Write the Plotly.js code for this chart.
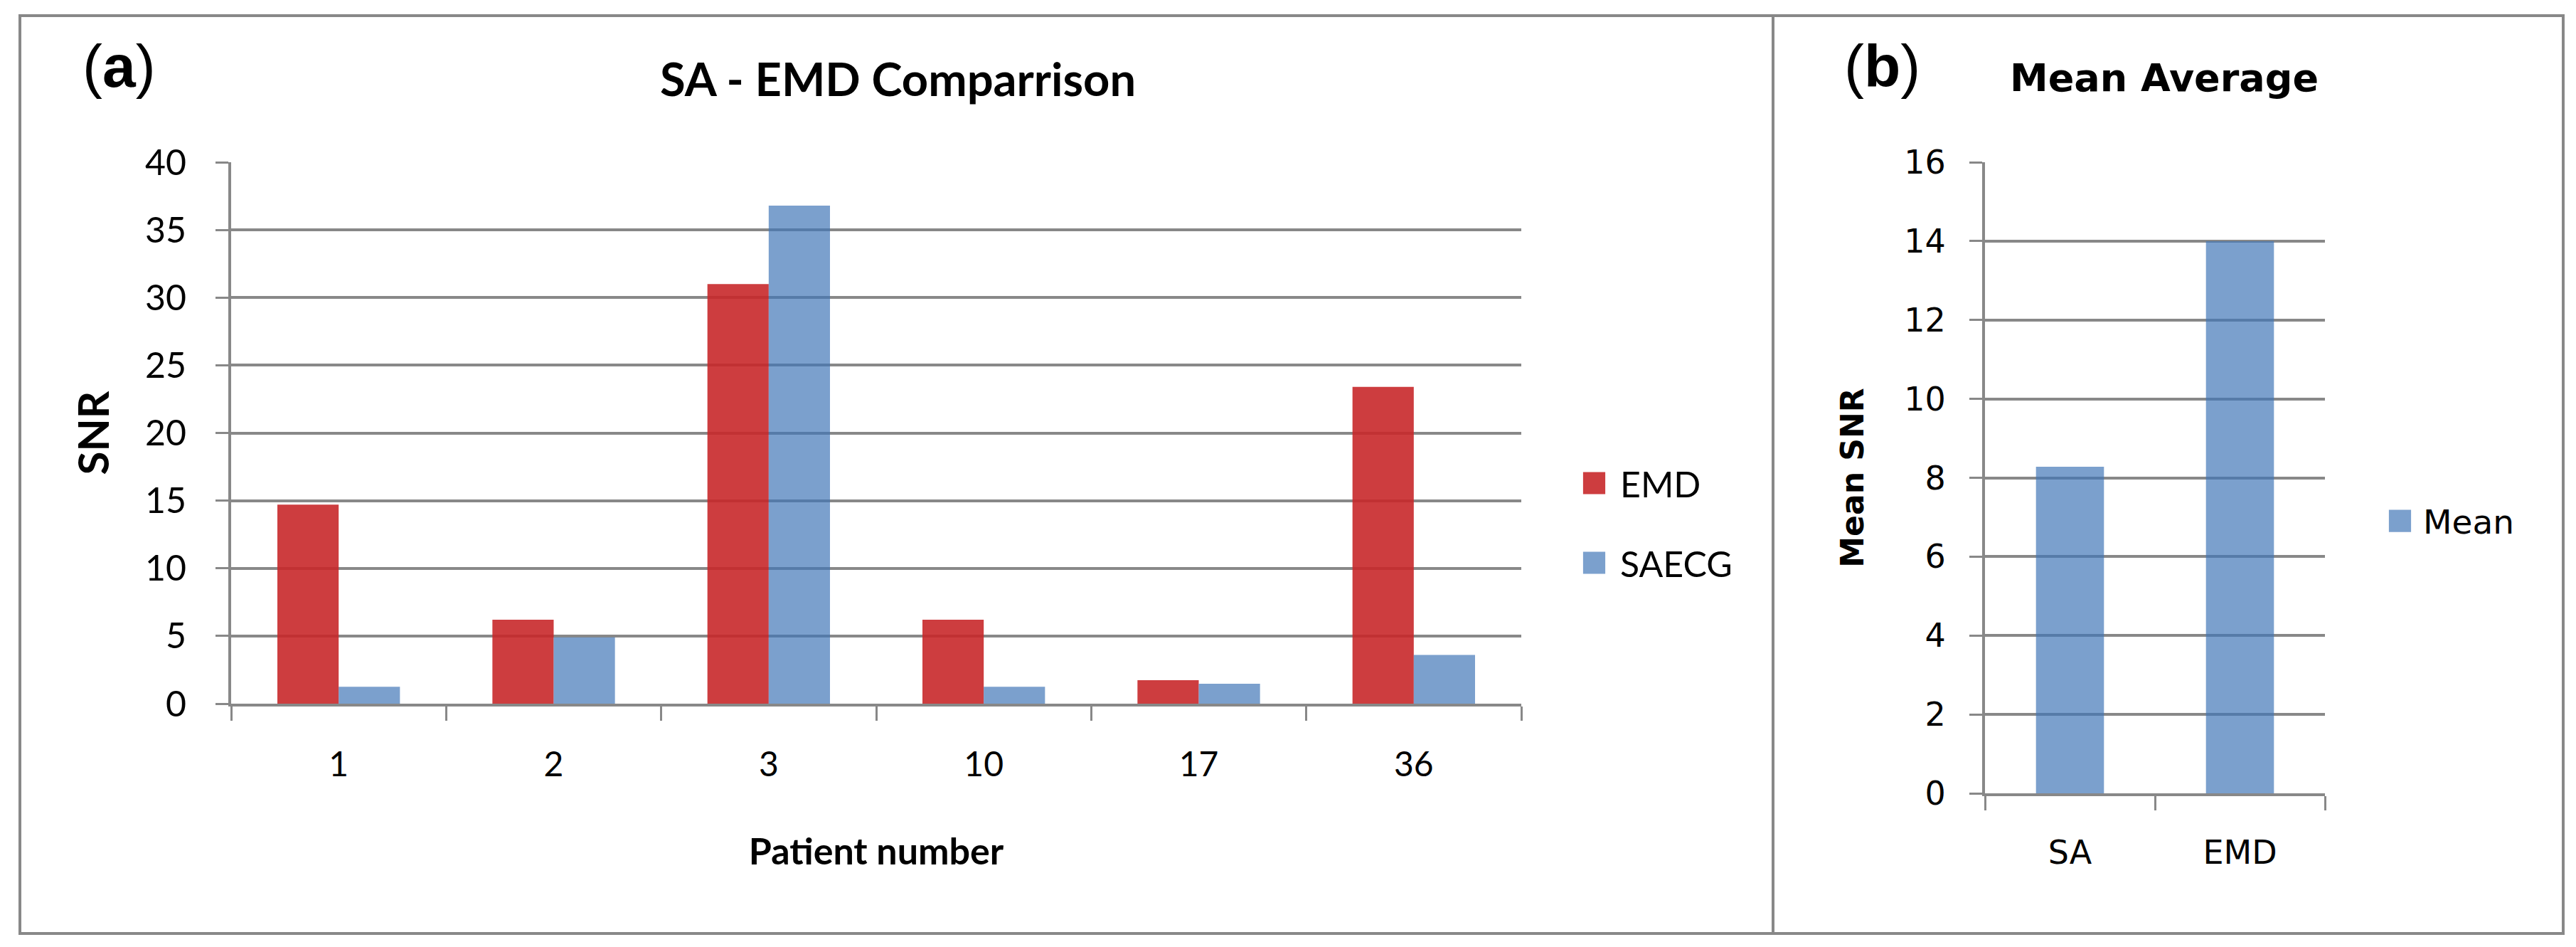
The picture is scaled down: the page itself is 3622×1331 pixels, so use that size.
<!DOCTYPE html>
<html>
<head>
<meta charset="utf-8">
<script src="https://cdn.plot.ly/plotly-3.0.1.min.js"></script>
<style>
html, body { margin: 0; padding: 0; background: #fff; }
#chart { width: 3622px; height: 1331px; }
</style>
</head>
<body>
<div id="chart"></div>
<script>
// (a) SNR per patient
const patients = ['1', '2', '3', '10', '17', '36'];
const emdSnr = [14.7, 6.2, 31.0, 6.2, 1.73, 23.4];
const saecgSnr = [1.25, 4.9, 36.8, 1.25, 1.47, 3.6];
const yTicksA = [0, 5, 10, 15, 20, 25, 30, 35, 40];

// (b) mean average
const methods = ['SA', 'EMD'];
const meanSnr = [8.28, 14.0];
const yTicksB = [0, 2, 4, 6, 8, 10, 12, 14, 16];

const W = 3622, H = 1331;
const px = x => x / W;
const py = y => 1 - y / H;

const GRID = '#888888';
const RED = 'rgba(200,40,42,0.9)';
const BLUE = 'rgba(64,117,183,0.69)';
const FA = 'Lato, "Liberation Sans", sans-serif';
const FB = '"DejaVu Sans", Verdana, sans-serif';
const FL = '"Liberation Sans", Arial, sans-serif';

const traces = [
    {
        type: 'bar', x: patients, y: emdSnr, name: 'EMD',
        xaxis: 'x', yaxis: 'y', width: 0.285, offset: -0.285,
        marker: {color: RED}, legend: 'legend', legendgroup: 'emd'
    },
    {
        type: 'bar', x: patients, y: saecgSnr, name: 'SAECG',
        xaxis: 'x', yaxis: 'y', width: 0.285, offset: 0,
        marker: {color: BLUE}, legend: 'legend', legendgroup: 'saecg'
    },
    {
        type: 'bar', x: methods, y: meanSnr, name: 'Mean',
        xaxis: 'x2', yaxis: 'y2', width: 0.4,
        marker: {color: BLUE}, legend: 'legend2'
    }
];

function xAxis(domain, anchor, font) {
    return {
        domain: domain, anchor: anchor, type: 'category',
        showline: true, linecolor: GRID, linewidth: 4,
        ticks: 'outside', tickson: 'boundaries', ticklen: 20, tickwidth: 3, tickcolor: GRID,
        tickfont: {family: font, size: 48, color: '#000'},
        ticklabelstandoff: 40, showgrid: false, zeroline: false
    };
}

function yAxis(domain, anchor, range, ticks, font, size) {
    return {
        domain: domain, anchor: anchor, range: range, tickvals: ticks,
        showline: true, linecolor: GRID, linewidth: 4,
        ticks: 'outside', ticklen: 18, tickwidth: 3, tickcolor: GRID,
        gridcolor: GRID, gridwidth: 4, zeroline: false,
        tickfont: {family: font, size: size, color: '#000'},
        ticklabelstandoff: 31
    };
}

function label(text, x, y, font, size) {
    return {
        text: text, x: px(x), y: py(y), xref: 'paper', yref: 'paper',
        xanchor: 'center', yanchor: 'middle', showarrow: false,
        font: {family: font, size: size, color: '#000'}
    };
}

const xa = xAxis([px(325), px(2139)], 'y', FA);
xa.title = {text: '<b>Patient number</b>', font: {family: FA, size: 52, color: '#000'}, standoff: 80};
const ya = yAxis([py(989), py(228)], 'x', [0, 40], yTicksA, FA, 50);
ya.title = {text: '<b>SNR</b>', font: {family: FA, size: 60, color: '#000'}, standoff: 32};

const xb = xAxis([px(2791), px(3269)], 'y2', FB);
xb.tickfont.size = 46;
const yb = yAxis([py(1115), py(228)], 'x2', [0, 16], yTicksB, FB, 46);
yb.ticklabelstandoff = 24;
yb.title = {text: '<b>Mean SNR</b>', font: {family: FB, size: 44, color: '#000'}, standoff: 44};

const layout = {
    width: W, height: H,
    margin: {l: 0, r: 0, t: 0, b: 0},
    paper_bgcolor: '#fff', plot_bgcolor: 'rgba(0,0,0,0)',
    barmode: 'overlay',
    xaxis: xa, yaxis: ya, xaxis2: xb, yaxis2: yb,
    legend: {
        x: px(2205), y: py(640), xanchor: 'left', yanchor: 'top',
        font: {family: FA, size: 50, color: '#000'},
        itemwidth: 63, traceorder: 'grouped', tracegroupgap: 44,
        bgcolor: 'rgba(0,0,0,0)'
    },
    legend2: {
        x: px(3342), y: py(695), xanchor: 'left', yanchor: 'top',
        font: {family: FB, size: 47, color: '#000'},
        itemwidth: 55, bgcolor: 'rgba(0,0,0,0)'
    },
    annotations: [
        label('(<b>a</b>)', 167, 93, FL, 84),
        label('(<b>b</b>)', 2646, 93, FL, 84),
        label('<b>SA - EMD Comparrison</b>', 1262, 110, FA, 65),
        label('<b>Mean Average</b>', 3043, 110, FB, 54)
    ],
    shapes: [
        {type: 'rect', xref: 'paper', yref: 'paper', x0: px(28), x1: px(3604), y0: py(1312), y1: py(22),
         line: {color: GRID, width: 4}},
        {type: 'line', xref: 'paper', yref: 'paper', x0: px(2493), x1: px(2493), y0: py(1312), y1: py(22),
         line: {color: GRID, width: 4}}
    ]
};

Plotly.newPlot('chart', traces, layout, {staticPlot: true}).then(gd => {
    // Excel-sized legend swatches
    gd.querySelectorAll('.legendpoints path').forEach(p => {
        p.setAttribute('transform', (p.getAttribute('transform') || '') + ' scale(2.6)');
    });
});
</script>
</body>
</html>
